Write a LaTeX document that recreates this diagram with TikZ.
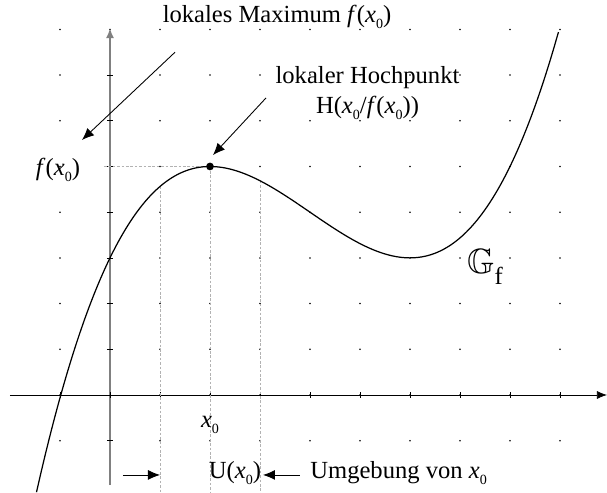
\documentclass[tikz,border=0pt]{standalone}
\usepackage{fontspec}
\usepackage{amssymb}
\setmainfont{Liberation Serif}
\usetikzlibrary{arrows.meta}
\newcommand{\xnull}{\textit{x}\raisebox{-0.55ex}{\footnotesize 0}}
\newcommand{\fxnull}{\textit{f}(\xnull)}
\tikzset{
    lbl/.style={font=\fontsize{14}{16}\selectfont, inner sep=0pt},
    hilfslinie/.style={gray!60, dash pattern=on 1.5pt off 1pt, line width=0.3pt},
    pfeil/.style={-{Latex[length=2.4mm,width=2mm]}, line width=0.5pt}
}
\begin{document}
\begin{tikzpicture}[x=1cm, y=0.914cm]
    \useasboundingbox (-2.2,-2.144) rectangle (9.94,8.643);
    % Punkte
    \foreach \i in {-1,...,9}
        \foreach \j in {-1,...,8}
            \fill (\i,\j) circle (0.5pt);
    % Achsen
    \draw[-{Latex[length=2mm,width=1.6mm]}] (-2,0) -- (9.94,0);
    \draw[gray, line width=1.2pt, -{Latex[length=2mm,width=1.6mm]}] (0,-1.97) -- (0,8.03);
    \foreach \i in {-1,...,9}
        \draw (\i,-0.06) -- (\i,0.06);
    \foreach \j in {-1,...,7}
        \draw (-0.06,\j) -- (0.06,\j);
    % Hilfslinien
    \coordinate (H) at (2,5);
    \draw[hilfslinie] (-0.12,5) -- (H);
    \draw[hilfslinie] (H) -- (2,-2.144);
    \draw[hilfslinie] (1,4.5625) -- (1,-2.144);
    \draw[hilfslinie] (3,4.6875) -- (3,-2.144);
    % Graph
    \draw[line width=0.7pt, domain=-1.47:8.97, samples=120, smooth]
        plot (\x, {\x*\x*\x/16 - 3*\x*\x/4 + 9*\x/4 + 3});
    \fill (H) circle (2.2pt);
    % Beschriftungen
    \node[lbl] (max) at (3.34,8.27) {lokales Maximum \fxnull};
    \node[lbl, align=center] (hp) at (5.15,6.6) {lokaler Hochpunkt\\[1pt] H(\xnull/\fxnull)};
    \node[lbl] (fx) at (-1.04,4.92) {\fxnull};
    \node[lbl] (x0) at (2,-0.66) {\xnull};
    \node[lbl] (U) at (2.5,-1.7) {U(\xnull)};
    \node[lbl, anchor=west] (umg) at (4.0,-1.7) {Umgebung von \xnull};
    \node[lbl, font=\fontsize{20}{22}\selectfont] (G) at (7.5,2.8) {$\mathbb{G}$\raisebox{-0.7ex}{\fontsize{14}{16}\selectfont f}};
    % Pfeile
    \coordinate (a1) at (1.3,7.5);
    \coordinate (a2) at (-0.56,5.58);
    \coordinate (b1) at (3.12,6.5);
    \coordinate (b2) at (2.06,5.25);
    \coordinate (c1) at (0.26,-1.75);
    \coordinate (c2) at (1,-1.75);
    \coordinate (d1) at (3.8,-1.75);
    \coordinate (d2) at (3.06,-1.75);
    \draw[pfeil] (a1) -- (a2);
    \draw[pfeil] (b1) -- (b2);
    \draw[pfeil] (c1) -- (c2);
    \draw[pfeil] (d1) -- (d2);
\end{tikzpicture}
\end{document}
